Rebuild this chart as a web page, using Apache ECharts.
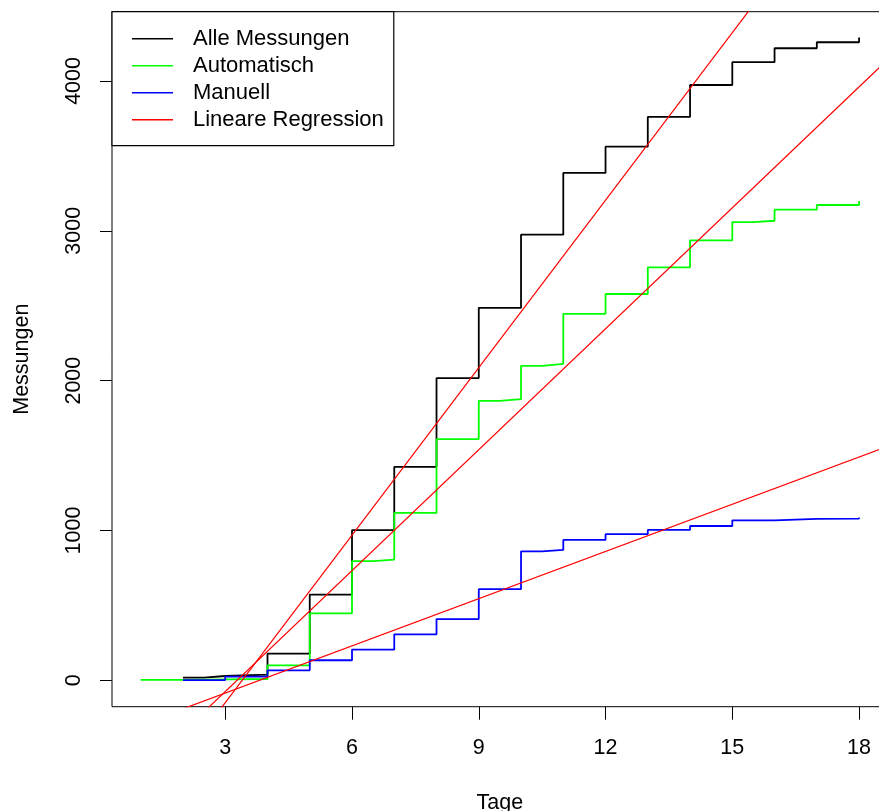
<!DOCTYPE html>
<html>
<head>
<meta charset="utf-8">
<title>Messungen</title>
<script src="https://cdn.jsdelivr.net/npm/echarts@6/dist/echarts.min.js"></script>
<style>
  html, body { margin: 0; padding: 0; background: #fff; }
  #chart { width: 879px; height: 811px; }
</style>
</head>
<body>
<div id="chart"></div>
<script>
// Tage (x) und Messungen (y)
var alleTage = [2, 2.5, 3, 4, 5, 6, 7, 8, 9, 10, 11, 12, 13, 14, 15, 16, 17, 18];
var alleWerte = [18, 29, 38, 178, 572, 1002, 1425, 2017, 2486, 2974, 3386, 3561, 3760, 3973, 4125, 4218, 4258, 4289];

var autoTage = [1, 2, 3, 4, 5, 6, 6.5, 7, 8, 9, 9.5, 10, 10.5, 11, 12, 13, 14, 15, 15.5, 16, 17, 18];
var autoWerte = [3, 6, 9, 100, 447, 795, 806, 1117, 1609, 1865, 1876, 2099, 2112, 2446, 2578, 2756, 2936, 3058, 3067, 3141, 3172, 3199];

var manuellTage = [2, 3, 4, 5, 6, 7, 8, 9, 10, 10.5, 11, 12, 13, 14, 15, 16, 17, 18];
var manuellWerte = [2, 25, 67, 134, 205, 307, 409, 608, 861, 870, 937, 975, 1004, 1030, 1068, 1077, 1080, 1086];

// lineare Regression: [Achsenabschnitt, Steigung] fuer alle / automatisch / manuell
var regAlle = [-1267, 372.6];
var regAuto = [-882, 269];
var regManuell = [-400, 105];

var xTicks = [3, 6, 9, 12, 15, 18];
var yTicks = [0, 1000, 2000, 3000, 4000];

var xMin = 0.32, xMax = 18.68;

function paare(xs, ys) {
  var out = [];
  for (var i = 0; i < xs.length; i++) out.push([xs[i], ys[i]]);
  return out;
}
// abline: Gerade ueber die ganze x-Spanne
function gerade(reg) {
  return [[xMin, reg[0] + reg[1] * xMin], [xMax, reg[0] + reg[1] * xMax]];
}

var font = "Liberation Sans, Arial, sans-serif";
var myChart = echarts.init(document.getElementById("chart"));

myChart.setOption({
  animation: false,
  backgroundColor: "#fff",
  textStyle: { fontFamily: font, color: "#000" },
  grid: {
    left: 112,
    top: 11.7,
    width: 775.8,
    height: 695,
    outerBoundsMode: "none",
    containLabel: false,
    show: true,
    borderColor: "#000",
    borderWidth: 1,
    backgroundColor: "transparent"
  },
  legend: {
    orient: "vertical",
    left: 112,
    top: 11.7,
    padding: [16, 10, 15, 20],
    backgroundColor: "#fff",
    borderColor: "#000",
    borderWidth: 1.2,
    borderRadius: 0,
    icon: "rect",
    itemWidth: 41,
    itemHeight: 1.6,
    itemGap: 5,
    selectedMode: false,
    textStyle: {
      fontFamily: font,
      fontSize: 22,
      color: "#000",
      lineHeight: 22,
      padding: [0, 0, 0, 15]
    },
    data: ["Alle Messungen", "Automatisch", "Manuell", "Lineare Regression"]
  },
  xAxis: {
    type: "value",
    min: xMin,
    max: xMax,
    name: "Tage",
    nameLocation: "middle",
    nameGap: 85,
    nameTextStyle: { fontFamily: font, fontSize: 21.5, color: "#000" },
    axisLine: { show: false, onZero: false },
    splitLine: { show: false },
    axisTick: {
      show: true,
      inside: false,
      length: 13,
      customValues: xTicks,
      lineStyle: { color: "#000", width: 1 }
    },
    axisLabel: {
      margin: 30,
      fontFamily: font,
      fontSize: 21.5,
      color: "#000",
      customValues: xTicks,
      formatter: function (v) { return String(v); }
    }
  },
  yAxis: {
    type: "value",
    min: -176,
    max: 4462,
    name: "Messungen",
    nameLocation: "middle",
    nameGap: 79,
    nameRotate: 90,
    nameTextStyle: { fontFamily: font, fontSize: 21.5, color: "#000" },
    axisLine: { show: false, onZero: false },
    splitLine: { show: false },
    axisTick: {
      show: true,
      inside: false,
      length: 12,
      customValues: yTicks,
      lineStyle: { color: "#000", width: 1 }
    },
    axisLabel: {
      rotate: 90,
      margin: 27,
      fontFamily: font,
      fontSize: 21.5,
      color: "#000",
      customValues: yTicks,
      formatter: function (v) { return String(v); }
    }
  },
  series: [
    {
      name: "Alle Messungen",
      type: "line",
      step: "end",
      showSymbol: false,
      color: "#000",
      lineStyle: { color: "#000", width: 1.8 },
      data: paare(alleTage, alleWerte)
    },
    {
      name: "Automatisch",
      type: "line",
      step: "end",
      showSymbol: false,
      color: "#00ff00",
      lineStyle: { color: "#00ff00", width: 1.8 },
      data: paare(autoTage, autoWerte)
    },
    {
      name: "Manuell",
      type: "line",
      step: "end",
      showSymbol: false,
      color: "#0000ff",
      lineStyle: { color: "#0000ff", width: 1.8 },
      data: paare(manuellTage, manuellWerte)
    },
    {
      name: "Lineare Regression",
      type: "line",
      showSymbol: false,
      clip: true,
      color: "#ff0000",
      lineStyle: { color: "#ff0000", width: 1.2 },
      data: gerade(regAlle)
    },
    {
      name: "Lineare Regression",
      type: "line",
      showSymbol: false,
      clip: true,
      color: "#ff0000",
      lineStyle: { color: "#ff0000", width: 1.2 },
      data: gerade(regAuto)
    },
    {
      name: "Lineare Regression",
      type: "line",
      showSymbol: false,
      clip: true,
      color: "#ff0000",
      lineStyle: { color: "#ff0000", width: 1.2 },
      data: gerade(regManuell)
    }
  ]
});
</script>
</body>
</html>
